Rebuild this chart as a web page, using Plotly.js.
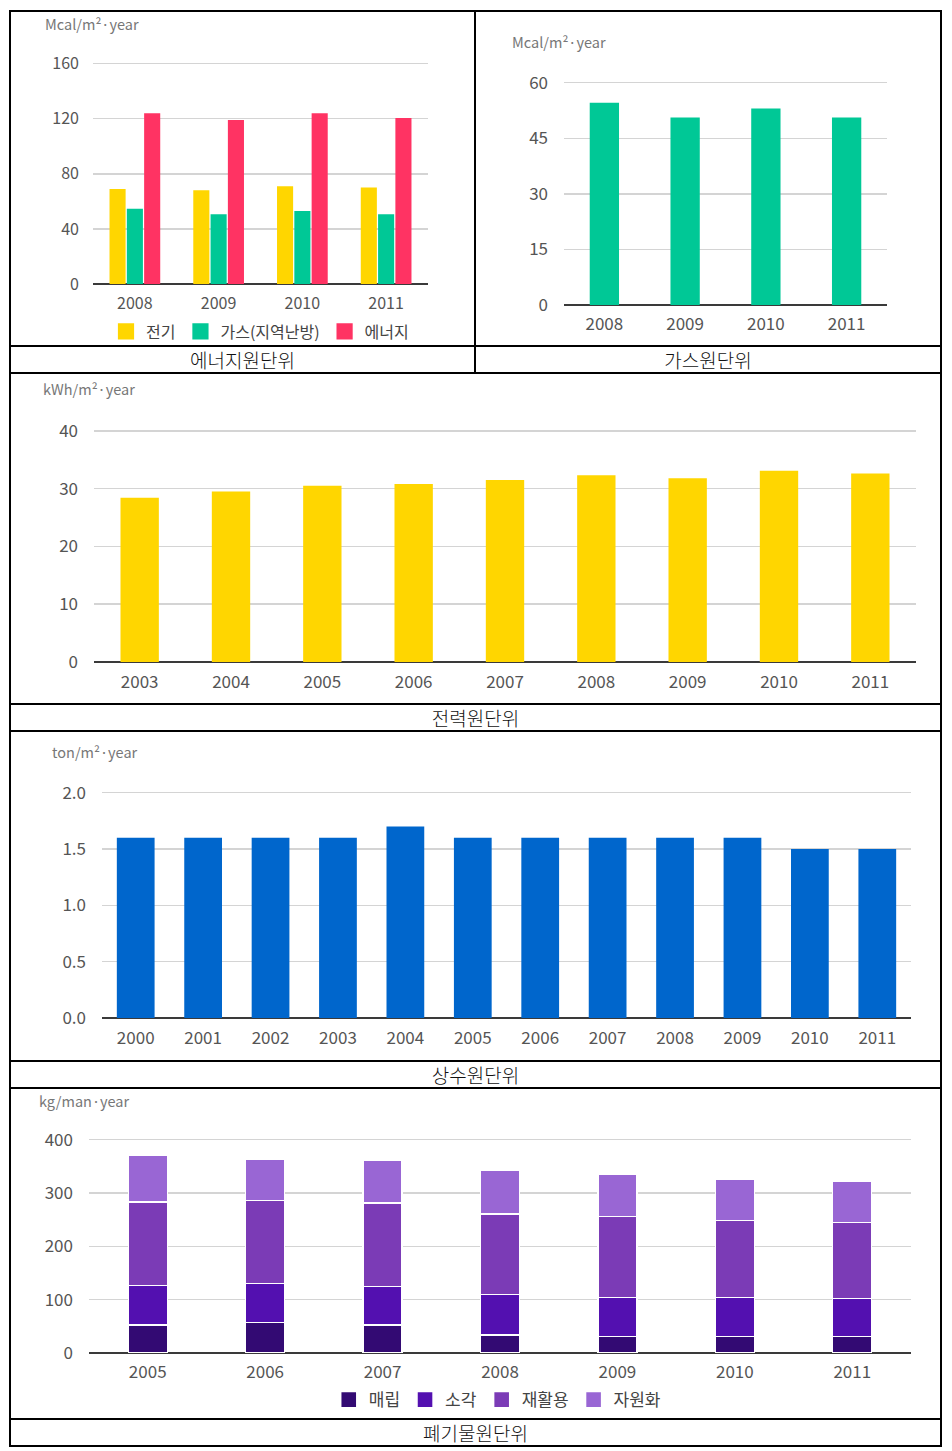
<!DOCTYPE html>
<html><head><meta charset="utf-8">
<script src="https://cdn.plot.ly/plotly-3.0.1.min.js"></script>
<style>
body{margin:0;background:#fff;width:952px;height:1451px;position:relative;overflow:hidden;font-family:"Noto Sans CJK KR",sans-serif}
.ln{position:absolute;background:#000}
.plot{position:absolute}
.cap{position:absolute;text-align:center;font-size:19px;color:#111;line-height:26px;font-weight:300;font-family:"Noto Sans CJK KR",sans-serif}
</style></head><body>
<div id="c1" class="plot"></div>
<div id="c2" class="plot"></div>
<div id="c3" class="plot"></div>
<div id="c4" class="plot"></div>
<div id="c5" class="plot"></div>

<div class="ln" style="left:9px;top:10px;width:933px;height:2px"></div>
<div class="ln" style="left:9px;top:345px;width:933px;height:2px"></div>
<div class="ln" style="left:9px;top:372px;width:933px;height:2px"></div>
<div class="ln" style="left:9px;top:703px;width:933px;height:2px"></div>
<div class="ln" style="left:9px;top:730px;width:933px;height:2px"></div>
<div class="ln" style="left:9px;top:1060px;width:933px;height:2px"></div>
<div class="ln" style="left:9px;top:1087px;width:933px;height:2px"></div>
<div class="ln" style="left:9px;top:1418px;width:933px;height:2px"></div>
<div class="ln" style="left:9px;top:1445px;width:933px;height:2px"></div>
<div class="ln" style="left:9px;top:10px;width:2px;height:1437px"></div>
<div class="ln" style="left:940px;top:10px;width:2px;height:1437px"></div>
<div class="ln" style="left:474px;top:10px;width:2px;height:364px"></div>

<div class="cap" style="left:11px;width:463px;top:347px">에너지원단위</div>
<div class="cap" style="left:476px;width:464px;top:347px">가스원단위</div>
<div class="cap" style="left:11px;width:929px;top:705px">전력원단위</div>
<div class="cap" style="left:11px;width:929px;top:1062px">상수원단위</div>
<div class="cap" style="left:11px;width:929px;top:1420px">폐기물원단위</div>

<script>
// ---- data ----
const energyYears = ['2008', '2009', '2010', '2011'];
const electricity = [69, 68, 71, 70];
const gasDistrict = [54.6, 50.6, 53, 50.6];
const energyTotal = [124, 119, 124, 120.6];
const energyNames = ['전기', '가스(지역난방)', '에너지'];

const gasYears = ['2008', '2009', '2010', '2011'];
const gasUnit = [54.6, 50.6, 53, 50.6];

const powerYears = ['2003', '2004', '2005', '2006', '2007', '2008', '2009', '2010', '2011'];
const powerUnit = [28.4, 29.5, 30.5, 30.8, 31.5, 32.3, 31.8, 33.1, 32.6];

const waterYears = ['2000', '2001', '2002', '2003', '2004', '2005', '2006', '2007', '2008', '2009', '2010', '2011'];
const waterUnit = [1.6, 1.6, 1.6, 1.6, 1.7, 1.6, 1.6, 1.6, 1.6, 1.6, 1.5, 1.5];

const wasteYears = ['2005', '2006', '2007', '2008', '2009', '2010', '2011'];
const landfill = [52.6, 57.6, 52.6, 33.8, 31.3, 31.3, 31.3];
const incineration = [73.8, 72.0, 72.6, 75.1, 73.2, 73.2, 70.1];
const recycling = [156.6, 156.5, 155.9, 151.5, 150.9, 143.4, 143.4];
const resourceRecovery = [88.2, 77.6, 79.5, 82.0, 79.5, 77.0, 77.0];
const wasteNames = ['매립', '소각', '재활용', '자원화'];

const units = ['Mcal/m²·year', 'Mcal/m²·year', 'kWh/m²·year', 'ton/m²·year', 'kg/man·year'];

// ---- drawing ----
const FONT = '"Noto Sans CJK KR", "Noto Sans", sans-serif';
const TICK = '#555';
const EXT = 0.012; // small headroom so the top gridline is drawn

function draw(id, region, plotIn, traces, o) {
  const el = document.getElementById(id);
  const reg = [region[0], region[1], region[2], region[3] + 40];
  const W = reg[2] - reg[0], H = reg[3] - reg[1];
  el.style.left = reg[0] + 'px'; el.style.top = reg[1] + 'px';
  el.style.width = W + 'px'; el.style.height = H + 'px';
  const span = plotIn[3] - plotIn[1];
  const plot = [plotIn[0], plotIn[1] - EXT * span, plotIn[2], plotIn[3]];
  const pw = plot[2] - plot[0], ph = plot[3] - plot[1];
  const layout = {
    width: W, height: H,
    margin: {l: plot[0] - reg[0], r: reg[2] - plot[2], t: plot[1] - reg[1], b: reg[3] - plot[3], pad: 0, autoexpand: false},
    paper_bgcolor: 'rgba(0,0,0,0)', plot_bgcolor: 'rgba(0,0,0,0)',
    font: {family: FONT, color: TICK, size: o.fs},
    barmode: o.barmode || 'group',
    bargap: o.bargap, bargroupgap: o.bargroupgap || 0,
    showlegend: !!o.legend,
    xaxis: {type: 'category', showgrid: false, zeroline: false, showline: false, ticks: '',
            tickfont: {size: o.fs, color: TICK}, ticklabelstandoff: o.xst, fixedrange: true},
    yaxis: {range: [0, o.max * (1 + EXT)], dtick: o.dtick, tick0: 0, tickformat: o.tickformat || '',
            showgrid: true, gridcolor: '#d4d4d4', gridwidth: 1.5,
            zeroline: true, zerolinecolor: '#3a3a3a', zerolinewidth: 2,
            showline: false, ticks: '', tickfont: {size: o.fs, color: TICK},
            ticklabelstandoff: o.yst, fixedrange: true},
    annotations: [{
      text: o.unit, showarrow: false, xref: 'paper', yref: 'paper',
      x: (o.unitPos[0] - plot[0]) / pw, y: (plot[3] - o.unitPos[1]) / ph,
      xanchor: 'left', yanchor: 'middle', font: {size: 14.5, color: '#777', family: FONT}
    }]
  };
  if (o.legend) {
    layout.legend = {orientation: 'h', xanchor: 'center', yanchor: 'middle',
      x: (o.legend.x - plot[0]) / pw, y: (plot[3] - o.legend.y) / ph,
      font: {size: o.legend.fs, color: '#444', family: FONT}, traceorder: 'normal', itemclick: false,
      bgcolor: 'rgba(0,0,0,0)'};
  }
  Plotly.newPlot(el, traces, layout, {staticPlot: true, displayModeBar: false}).then(() => {
    // enlarge the legend swatches to match the reference squares (keep existing transform)
    el.querySelectorAll('.legendpoints path').forEach(p => {
      const t = p.getAttribute('transform') || '';
      p.setAttribute('transform', t + ' scale(1.35)');
    });
  });
}

function bar(x, y, name, color) {
  return {type: 'bar', x: x, y: y, name: name, marker: {color: color, line: {width: 0}}, hoverinfo: 'none'};
}
function sbar(x, y, name, color) {
  const t = bar(x, y, name, color);
  t.marker.line = {color: '#ffffff', width: 1.2};
  return t;
}

// Chart 1: energy
draw('c1', [11, 12, 474, 345], [93, 63.3, 428, 284], [
  bar(energyYears, electricity, energyNames[0], '#ffd600'),
  bar(energyYears, gasDistrict, energyNames[1], '#00c896'),
  bar(energyYears, energyTotal, energyNames[2], '#ff3363')
], {fs: 16, bargap: 0.38, bargroupgap: 0.07, max: 160, dtick: 40, xst: 8, yst: 13,
    unit: units[0], unitPos: [43, 23], legend: {x: 260, y: 331.5, fs: 16}});

// Chart 2: gas
draw('c2', [476, 12, 940, 345], [564.3, 82.7, 887, 304.7], [
  bar(gasYears, gasUnit, '가스', '#00c896')
], {fs: 17, bargap: 0.637, max: 60, dtick: 15, xst: 7, yst: 15,
    unit: units[1], unitPos: [510, 42]});

// Chart 3: power
draw('c3', [11, 374, 940, 703], [93.9, 431, 915.7, 662.3], [
  bar(powerYears, powerUnit, '전력', '#ffd600')
], {fs: 17, bargap: 0.58, max: 40, dtick: 10, xst: 8, yst: 15,
    unit: units[2], unitPos: [41, 389]});

// Chart 4: water
draw('c4', [11, 732, 940, 1060], [101.6, 793, 911.5, 1018.3], [
  bar(waterYears, waterUnit, '상수', '#0066cc')
], {fs: 17, bargap: 0.44, max: 2, dtick: 0.5, tickformat: '.1f', xst: 8, yst: 15,
    unit: units[3], unitPos: [50, 752]});

// Chart 5: waste (stacked)
draw('c5', [11, 1089, 940, 1418], [89, 1139.7, 911.5, 1352.7], [
  sbar(wasteYears, landfill, wasteNames[0], '#330a73'),
  sbar(wasteYears, incineration, wasteNames[1], '#5310b0'),
  sbar(wasteYears, recycling, wasteNames[2], '#7b3bb6'),
  sbar(wasteYears, resourceRecovery, wasteNames[3], '#9966d4')
], {fs: 17, barmode: 'stack', bargap: 0.668, max: 400, dtick: 100, xst: 7, yst: 15,
    unit: units[4], unitPos: [37, 1101], legend: {x: 498, y: 1399.7, fs: 17}});
</script>
</body></html>
